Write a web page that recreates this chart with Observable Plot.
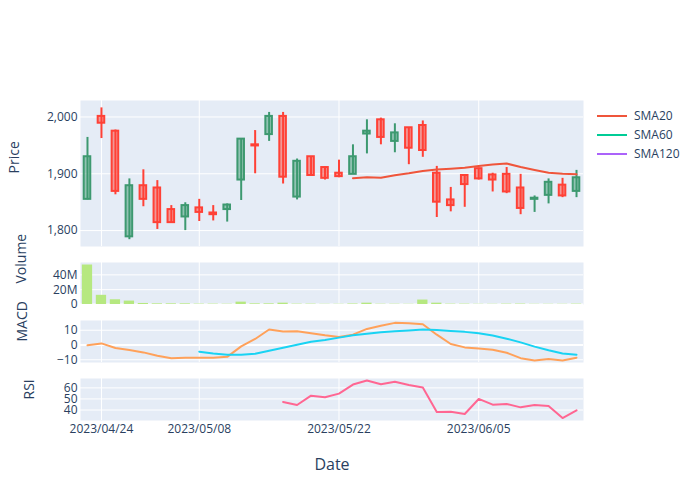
<!DOCTYPE html>
<html><head><meta charset="utf-8">
<script src="https://cdn.jsdelivr.net/npm/d3@7"></script>
<script src="https://cdn.jsdelivr.net/npm/@observablehq/plot@0.6"></script>
<style>
html,body{margin:0;padding:0;background:#fff;}
#chart{position:relative;width:700px;height:500px;font-family:"Open Sans",sans-serif;color:#2a3f5f;overflow:hidden;}
#chart > svg{position:absolute;left:0;overflow:visible;}
.legend{position:absolute;left:597px;top:106px;font-size:12px;font-family:"Open Sans",sans-serif;color:#2a3f5f;}
.legend div{height:19px;display:flex;align-items:center;}
.legend span.sw{display:inline-block;width:30px;height:2px;margin-right:7px;}
</style></head><body><div id="chart"></div>
<script>
const dates = ["2023-04-21","2023-04-24","2023-04-25","2023-04-26","2023-04-27","2023-04-28","2023-05-01","2023-05-02","2023-05-08","2023-05-09","2023-05-10","2023-05-11","2023-05-12","2023-05-15","2023-05-16","2023-05-17","2023-05-18","2023-05-19","2023-05-22","2023-05-23","2023-05-24","2023-05-25","2023-05-26","2023-05-29","2023-05-30","2023-05-31","2023-06-01","2023-06-02","2023-06-05","2023-06-06","2023-06-07","2023-06-08","2023-06-09","2023-06-12","2023-06-13","2023-06-14"];
const open  = [1855,2001,1975,1789,1879,1875,1837,1824,1840,1831,1837,1889,1951,1969,2001,1859,1930,1911,1901,1899,1970,1995,1957,1981,1985,1901,1854,1897,1909,1898,1899,1875,1855,1862,1880,1869];
const high  = [1964,2016,1977,1891,1907,1888,1844,1849,1855,1844,1847,1961,1976,2008,2008,1926,1930,1912,1924,1951,1995,1998,1988,1981,1993,1913,1876,1897,1910,1901,1911,1899,1861,1891,1892,1906];
const low   = [1854,1962,1863,1784,1842,1802,1813,1800,1816,1817,1815,1853,1900,1957,1882,1854,1897,1889,1893,1899,1935,1951,1937,1916,1929,1823,1833,1841,1889,1868,1865,1828,1832,1847,1858,1858];
const close = [1930,1989,1869,1879,1855,1814,1814,1844,1832,1828,1845,1961,1949,2001,1894,1922,1897,1892,1895,1930,1975,1964,1972,1945,1941,1850,1844,1881,1891,1889,1868,1839,1857,1885,1861,1893];
const volume = [53.3e6,12.4e6,6.4e6,4.6e6,1.4e6,0.9e6,0.9e6,0.9e6,0.5e6,0.5e6,0.4e6,3.2e6,0.9e6,0.9e6,1.8e6,0.5e6,0.5e6,0.3e6,0.3e6,0.7e6,1.8e6,0.4e6,0.4e6,0.3e6,6.0e6,1.8e6,0.5e6,0.5e6,0.3e6,0.3e6,0.5e6,0.6e6,0.3e6,0.3e6,0.3e6,0.5e6];
const sma20 = [null,null,null,null,null,null,null,null,null,null,null,null,null,null,null,null,null,null,null,1892.2,1893.8,1892.9,1897.4,1900.9,1905,1907.5,1908.8,1910.6,1913.5,1916.4,1918,1912,1906.8,1902,1900.2,1899];
const macd = [-0.2,1.1,-2,-3.4,-5,-7.3,-8.9,-8.6,-8.6,-8.6,-8,-0.9,4.1,10.5,9.1,9.3,8,6.6,5.5,7,10.9,13,15,14.8,14.1,7,0.7,-1.6,-2.3,-3.2,-5.2,-8.9,-10.5,-9.5,-10.5,-8.6];
const signal = [null,null,null,null,null,null,null,null,-4.5,-5.7,-6.6,-6.6,-5.9,-3.9,-1.8,0.2,2.2,3.4,5,6.6,7.7,8.6,9.3,9.8,10.5,10.2,9.5,8.9,8,6.4,4.3,1.8,-1.1,-3.6,-5.7,-6.6];
const rsi = [null,null,null,null,null,null,null,null,null,null,null,null,null,null,47.3,44.5,53,51.5,54.8,63,66.7,63.3,65.5,62.7,60.3,38.2,38.5,36.4,50,44.8,45.5,42.4,44.5,43.6,32.7,39.7];
const tickLabels = ["2023/04/24","2023/05/08","2023/05/22","2023/06/05"];
const priceTicks = [1800,1900,2000];
const volumeTicks = [0,20e6,40e6];
const macdTicks = [-10,0,10];
const rsiTicks = [40,50,60];
const legendNames = ["SMA20","SMA60","SMA120"];
const legendColors = ["#EF553B","#00CC96","#AB63FA"];

const candles = dates.map((d,i)=>({i, date:d, open:open[i], high:high[i], low:low[i], close:close[i], volume:volume[i], up: close[i] >= open[i]}));
const series = (arr) => arr.map((v,i)=>({i, v})).filter(d => d.v != null);
const tickIdx = tickLabels.map(l => dates.indexOf(l.replaceAll("/","-")));
const xDomain = [-0.5, dates.length - 0.5];
const BG = "#E5ECF6", UP = "#3D9970", DOWN = "#FF4136";
const chart = document.getElementById("chart");
const font = '"Open Sans", sans-serif';

function panel({top, h, mt=10, mb=10, y, title, titleDx, marks, xAxis=false, zero=false}) {
  const svg = Plot.plot({
    width: 700, height: h + mt + mb, marginTop: mt, marginBottom: mb, marginLeft: 80, marginRight: 117,
    x: xAxis ? {domain: xDomain, ticks: tickIdx, tickFormat: i => tickLabels[tickIdx.indexOf(i)], tickSize: 0, tickPadding: 4, label: null}
             : {domain: xDomain, axis: null},
    y: {...y, tickSize: 0, tickPadding: 3, label: null},
    style: {fontFamily: font, fontSize: "12px", color: "#2a3f5f", background: "transparent", overflow: "visible"},
    marks: [
      Plot.frame({fill: BG, stroke: "none"}),
      Plot.ruleX(tickIdx, {stroke: "white", strokeWidth: 1}),
      Plot.ruleY(y.ticks, {stroke: "white", strokeWidth: 1}),
      ...(zero ? [Plot.ruleY([0], {stroke: "white", strokeWidth: 2})] : []),
      ...marks,
      Plot.text([title], {frameAnchor: "left", rotate: -90, dx: titleDx, fontSize: 14, fill: "#2a3f5f"})
    ]
  });
  svg.style.position = "absolute";
  svg.style.top = (top - mt) + "px";
  chart.appendChild(svg);
  return svg;
}

// Price panel
panel({
  top: 100, h: 146,
  y: {domain: [1772, 2029], ticks: priceTicks, tickFormat: d3.format(",")},
  title: "Price", titleDx: -66,
  marks: [
    Plot.ruleX(candles, {filter: d => d.up, x: "i", y1: "low", y2: "high", stroke: UP, strokeWidth: 2}),
    Plot.ruleX(candles, {filter: d => !d.up, x: "i", y1: "low", y2: "high", stroke: DOWN, strokeWidth: 2}),
    Plot.rect(candles, {filter: d => d.up, x1: d => d.i - 0.5, x2: d => d.i + 0.5, y1: "open", y2: "close", insetLeft: 3.7, insetRight: 3.7, fill: UP, fillOpacity: 0.5, stroke: UP, strokeWidth: 2}),
    Plot.rect(candles, {filter: d => !d.up, x1: d => d.i - 0.5, x2: d => d.i + 0.5, y1: "open", y2: "close", insetLeft: 3.7, insetRight: 3.7, fill: DOWN, fillOpacity: 0.5, stroke: DOWN, strokeWidth: 2}),
    Plot.line(series(sma20), {x: "i", y: "v", stroke: legendColors[0], strokeWidth: 2})
  ]
});

// Volume panel
panel({
  top: 262, h: 42,
  y: {domain: [0, 56.7e6], ticks: volumeTicks, tickFormat: d3.format("~s")},
  title: "Volume", titleDx: -59, zero: true,
  marks: [
    Plot.rectY(candles, {x1: d => d.i - 0.5, x2: d => d.i + 0.5, y: "volume", insetLeft: 1.85, insetRight: 1.85, fill: "#B6E880"})
  ]
});

// MACD panel
panel({
  top: 320, h: 42,
  y: {domain: [-11.84, 16.6], ticks: macdTicks, tickFormat: d3.format("d")},
  title: "MACD", titleDx: -58, zero: true,
  marks: [
    Plot.line(series(macd), {x: "i", y: "v", stroke: "#FFA15A", strokeWidth: 2}),
    Plot.line(series(signal), {x: "i", y: "v", stroke: "#19D3F3", strokeWidth: 2})
  ]
});

// RSI panel
panel({
  top: 378, h: 42, mb: 80, xAxis: true,
  y: {domain: [30.5, 68.5], ticks: rsiTicks, tickFormat: d3.format("d")},
  title: "RSI", titleDx: -51,
  marks: [
    Plot.line(series(rsi), {x: "i", y: "v", stroke: "#FF6692", strokeWidth: 2}),
    Plot.text(["Date"], {frameAnchor: "bottom", dy: 49, fontSize: 16, fill: "#2a3f5f"})
  ]
});

// Legend
const leg = document.createElement("div");
leg.className = "legend";
legendNames.forEach((n, k) => {
  const row = document.createElement("div");
  const sw = document.createElement("span");
  sw.className = "sw"; sw.style.background = legendColors[k];
  row.appendChild(sw);
  row.appendChild(document.createTextNode(n));
  leg.appendChild(row);
});
chart.appendChild(leg);
</script></body></html>
